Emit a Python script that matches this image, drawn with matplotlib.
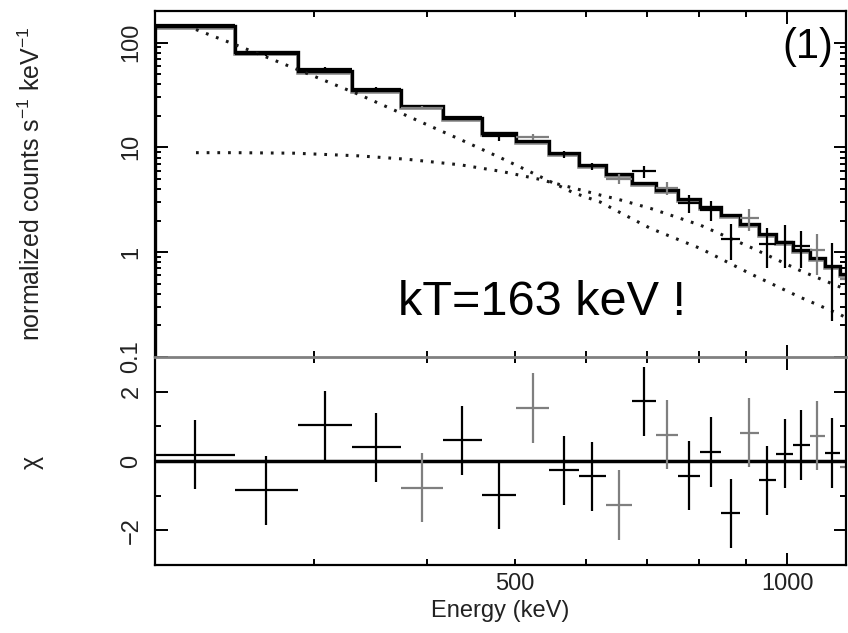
import matplotlib
matplotlib.use("Agg")
import matplotlib.pyplot as plt
import matplotlib.transforms as mtransforms
from matplotlib.ticker import FixedLocator, FixedFormatter, LogLocator, NullFormatter
import numpy as np

plt.rcParams['font.family'] = ['Liberation Sans', 'DejaVu Sans']
plt.rcParams['mathtext.fontset'] = 'custom'
plt.rcParams['mathtext.rm'] = 'Liberation Sans'
plt.rcParams['mathtext.it'] = 'Liberation Sans:italic'

# Spectral bins (keV)
bin_edges = [200, 245, 288, 330, 374, 416, 460, 502, 545, 589, 630, 673,
             716, 758, 802, 845, 888, 930, 973, 1016, 1059, 1101, 1143, 1185]
# folded model per bin (counts/s/keV)
model_counts = [145, 81, 54, 35.5, 24.6, 19.0, 13.8, 11.6, 8.8, 6.8, 5.6, 4.6,
                3.9, 3.2, 2.7, 2.25, 1.85, 1.5, 1.25, 1.05, 0.88, 0.74, 0.62]
# data per bin and 1-sigma errors
data_counts = [146, 78, 56, 36, 24, 19.3, 12.7, 12.6, 8.6, 6.6, 5.0, 5.9,
               4.1, 2.95, 2.55, 1.35, 2.1, 1.2, 1.25, 1.15, 1.05, 0.72, 0.55]
data_err = [4, 3, 2, 1.4, 1.0, 0.8, 1.1, 0.8, 0.6, 0.5, 0.55, 0.8,
            0.55, 0.6, 0.55, 0.5, 0.5, 0.5, 0.55, 0.45, 0.45, 0.5, 0.5]
# residuals (chi)
resid_chi = [0.18, -0.85, 1.03, 0.39, -0.77, 0.60, -0.97, 1.53, -0.27, -0.44,
             -1.27, 1.72, 0.76, -0.42, 0.26, -1.51, 0.82, -0.56, 0.21, 0.46,
             0.73, 0.23, -0.18]
# which detector each bin comes from (0 / 1)
instrument = [0, 0, 0, 0, 1, 0, 0, 1, 0, 0, 1, 0,
              1, 0, 0, 0, 1, 0, 0, 0, 1, 0, 1]

# model components (dotted lines)
comp_energy = [222, 245, 285, 336, 380, 436, 483, 530, 580, 622, 650, 706,
               802, 910, 1033, 1144, 1180]
comp_cutoff = [133, 96, 57, 32, 20, 11.8, 7.9, 5.4, 3.7, 3.0, 2.45, 1.69,
               1.085, 0.625, 0.373, 0.255, 0.22]
comp_hot = [8.9, 8.9, 8.8, 8.3, 7.7, 6.8, 5.9, 5.0, 4.1, 3.5, 3.2, 2.62,
            1.81, 1.12, 0.67, 0.466, 0.41]

edges = np.array(bin_edges, dtype=float)
lo, hi = edges[:-1], edges[1:]
centers = np.sqrt(lo * hi)
inst = np.array(instrument)
colors = {0: 'black', 1: '#7f7f7f'}

W, H = 848, 633
fig = plt.figure(figsize=(W / 100, H / 100), dpi=100)
ax1 = fig.add_axes([155 / W, 1 - 357 / H, 691 / W, 346 / H])
ax2 = fig.add_axes([155 / W, 1 - 565 / H, 691 / W, 208 / H], sharex=ax1)

# --- upper panel: spectrum ---
for comp in (comp_cutoff, comp_hot):
    ax1.plot(comp_energy, comp, color='#1a1a1a', lw=2.2,
             linestyle=(0, (0.9, 2.6)), dash_capstyle='butt')

shift = mtransforms.ScaledTranslation(0, -1.5 / 72, fig.dpi_scale_trans)
ax1.stairs(model_counts, bin_edges, color='#8a8a8a', lw=2.6,
           transform=ax1.transData + shift)
ax1.stairs(model_counts, bin_edges, color='black', lw=2.4)

dc = np.array(data_counts)
de = np.array(data_err)
for k in (0, 1):
    m = inst == k
    ax1.errorbar(centers[m], dc[m], xerr=[centers[m] - lo[m], hi[m] - centers[m]],
                 yerr=de[m], fmt='none', ecolor=colors[k], elinewidth=1.6,
                 capsize=0)

ax1.set_xscale('log')
ax1.set_yscale('log')
ax1.set_xlim(200, 1162)
ax1.set_ylim(0.1, 200)
ax1.set_yticks([0.1, 1, 10, 100])
ax1.set_yticklabels(['0.1', '1', '10', '100'])
ax1.yaxis.set_minor_locator(LogLocator(base=10, subs=np.arange(2, 10)))
ax1.yaxis.set_minor_formatter(NullFormatter())

ax1.text(0.351, 0.121, 'kT=163 keV !', transform=ax1.transAxes,
         fontsize=35, va='baseline', ha='left')
ax1.text(0.982, 0.896, '(1)', transform=ax1.transAxes,
         fontsize=30, va='center', ha='right')

# --- lower panel: residuals ---
ax2.axhline(0, color='black', lw=2.5)
rc = np.array(resid_chi)
for k in (0, 1):
    m = inst == k
    ax2.errorbar(centers[m], rc[m], xerr=[centers[m] - lo[m], hi[m] - centers[m]],
                 yerr=1.0, fmt='none', ecolor=colors[k], elinewidth=1.6,
                 capsize=0)
ax2.set_ylim(-3, 3)
ax2.set_yticks([-2, 0, 2])
ax2.yaxis.set_minor_locator(FixedLocator([-1, 1]))
ax2.yaxis.set_minor_formatter(NullFormatter())

ax2.xaxis.set_major_locator(FixedLocator([1000]))
ax2.xaxis.set_major_formatter(FixedFormatter(['1000']))
ax2.xaxis.set_minor_locator(FixedLocator([300, 400, 500, 600, 700, 800, 900]))
ax2.xaxis.set_minor_formatter(FixedFormatter(['', '', '500', '', '', '', '']))
ax2.set_xlabel('Energy (keV)', fontsize=17, color='#222222', labelpad=3)

for ax in (ax1, ax2):
    ax.tick_params(which='both', direction='in', top=True, right=True,
                   width=1.4, labelsize=17, labelcolor='#222222')
    ax.tick_params(which='major', length=9)
    ax.tick_params(which='minor', length=4.5)
    ax.tick_params(axis='y', which='major', labelrotation=90, pad=9)
    ax.tick_params(axis='x', which='both', pad=6)
    for lab in ax.get_yticklabels():
        lab.set_va('center')
    for s in ax.spines.values():
        s.set_linewidth(1.6)
ax1.tick_params(axis='x', which='both', labelbottom=False)
ax1.spines['bottom'].set_visible(False)
ax2.spines['top'].set_color('#808080')
ax2.spines['top'].set_linewidth(2)

fig.text(32 / W, 1 - 184 / H, 'normalized counts s$^{-1}$ keV$^{-1}$',
         rotation=90, ha='center', va='center', fontsize=18, color='#222222')
fig.text(32 / W, 1 - 462 / H, 'χ', rotation=90, ha='center', va='center',
         fontsize=18, color='#222222')

fig.savefig('out.png', dpi=100)
